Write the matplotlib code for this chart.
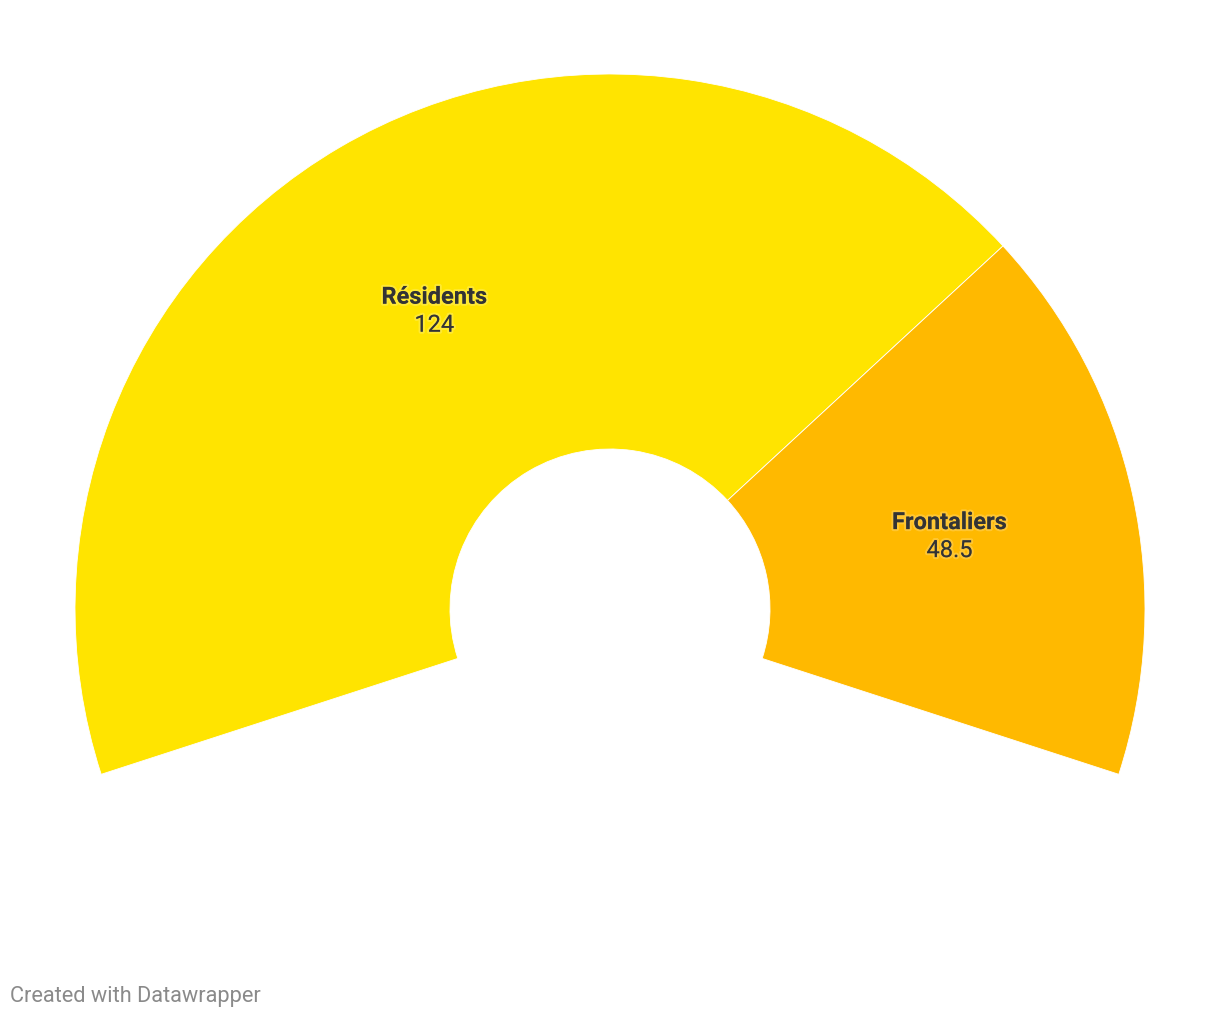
import matplotlib.pyplot as plt
import matplotlib.patheffects as pe
import numpy as np

labels = ['Résidents', 'Frontaliers']
values = [124, 48.5]
value_labels = ['124', '48.5']
colors = ['#ffe400', '#ffb900']

plt.rcParams['font.family'] = ['Roboto', 'DejaVu Sans']

# arc covers 216 degrees, the rest of the circle stays empty
arc_deg = 216
total = sum(values)
gap = total * (360 - arc_deg) / arc_deg

fig = plt.figure(figsize=(12.2, 10.2), dpi=100)
ax = fig.add_axes([0, 0, 1, 1])

cx, cy = 610, 410
R, r = 535, 160
wedges, _ = ax.pie(values + [gap], colors=colors + ['none'],
                   startangle=198, counterclock=False,
                   center=(cx, cy), radius=R,
                   wedgeprops=dict(width=R - r, linewidth=0.6, edgecolor='white'))
wedges[-1].set_visible(False)

ax.set_xlim(0, 1220)
ax.set_ylim(0, 1020)
ax.set_aspect('equal')
ax.axis('off')

halo = [pe.withStroke(linewidth=3, foreground=(1, 1, 1, 0.2))]
for w, lab, val in zip(wedges[:-1], labels, value_labels):
    mid = np.deg2rad((w.theta1 + w.theta2) / 2)
    rm = (R + r) / 2
    x = cx + rm * np.cos(mid)
    y = cy + rm * np.sin(mid) - 2
    ax.text(x, y + 14, lab, ha='center', va='center', fontsize=17,
            fontweight='bold', color='#333333', path_effects=halo)
    ax.text(x, y - 14, val, ha='center', va='center', fontsize=17,
            color='#333333', path_effects=halo)

fig.text(10 / 1220, 1 - 997 / 1020, 'Created with Datawrapper', ha='left', va='center',
         fontsize=15.7, color='#8a8a8a')

fig.savefig('out.png', dpi=100)
